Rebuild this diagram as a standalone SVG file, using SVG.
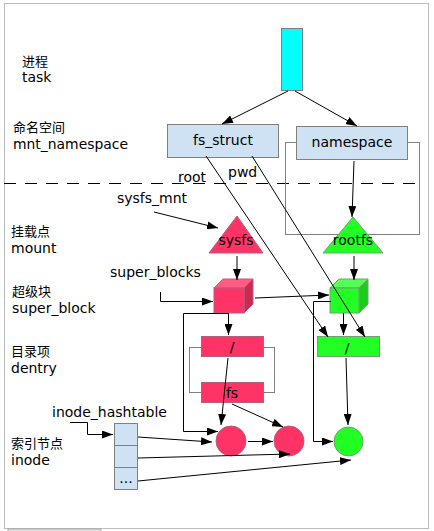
<svg xmlns="http://www.w3.org/2000/svg" width="434" height="531" viewBox="0 0 434 531">
<defs>
<marker id="ah" markerWidth="11" markerHeight="8" refX="11" refY="4" orient="auto" markerUnits="userSpaceOnUse"><path d="M0,0 L11,4 L0,8 z" fill="#000"/></marker>
<style>
text{font-family:"DejaVu Sans","Noto Sans CJK SC",sans-serif;font-size:14px;fill:#000}
.cjk{font-size:13px}
.mid{text-anchor:middle}
.blue{fill:#cfe2f3;stroke:#808080;stroke-width:1}
.red{fill:#ff3366;stroke:#b0607a;stroke-width:1}
.green{fill:#22ff22;stroke:#70a070;stroke-width:1}
.c{fill:none;stroke:#000;stroke-width:1;marker-end:url(#ah)}
.l{fill:none;stroke:#000;stroke-width:1}
.g{fill:none;stroke:#808080;stroke-width:1}
</style>
</defs>
<rect x="0" y="0" width="434" height="531" fill="#fff"/>
<rect x="4.5" y="3.5" width="424" height="525" fill="none" stroke="#bbb"/>
<rect x="8" y="529" width="93" height="4" fill="#e4e4e4" stroke="#aaa"/>

<g id="labels">
<text x="22" y="66" class="cjk">进程</text>
<text x="22" y="82">task</text>
<text x="13" y="132" class="cjk">命名空间</text>
<text x="13" y="149" textLength="115" lengthAdjust="spacingAndGlyphs">mnt_namespace</text>
<text x="11" y="236" class="cjk">挂载点</text>
<text x="11" y="253">mount</text>
<text x="12" y="296" class="cjk">超级块</text>
<text x="12" y="313">super_block</text>
<text x="11" y="356" class="cjk">目录项</text>
<text x="11" y="373">dentry</text>
<text x="11" y="448" class="cjk">索引节点</text>
<text x="11" y="465">inode</text>
<text x="178" y="182">root</text>
<text x="228" y="177">pwd</text>
<text x="117" y="203">sysfs_mnt</text>
<text x="110" y="277">super_blocks</text>
<text x="52" y="417">inode_hashtable</text>
</g>

<line x1="4" y1="183.5" x2="424" y2="183.5" stroke="#000" stroke-dasharray="12,9"/>

<g id="ns_group">
<rect x="285.5" y="142.5" width="134" height="92" class="g"/>
</g>

<g id="task"><rect x="281.5" y="28.5" width="21" height="62" fill="#00ffff" stroke="#808080"/></g>
<g id="fs_struct"><rect x="167.5" y="124.5" width="111" height="33" class="blue"/><text x="223" y="145" class="mid">fs_struct</text></g>
<g id="namespace"><rect x="296.5" y="126.5" width="111" height="33" class="blue"/><text x="352" y="147" class="mid">namespace</text></g>

<g id="sysfs"><polygon points="237,216 263,253 209,253" class="red" stroke="#888"/><text x="236" y="245" class="mid">sysfs</text></g>
<g id="rootfs"><polygon points="353,217 383,253 323,253" class="green" stroke="#888"/><text x="353" y="245" class="mid">rootfs</text></g>

<g id="sb_red">
<polygon points="214,288 223,279 253,279 244,288" fill="#ff5c85" stroke="#b0607a"/>
<polygon points="244,288 253,279 253,304 244,313" fill="#cc2952" stroke="#b0607a"/>
<rect x="214" y="288" width="30" height="25" fill="#ff3366" stroke="#b0607a"/>
</g>
<g id="sb_green">
<polygon points="330,288 339,279 368,279 359,288" fill="#55ff55" stroke="#70a070"/>
<polygon points="359,288 368,279 368,304 359,313" fill="#1bcc1b" stroke="#70a070"/>
<rect x="330" y="288" width="29" height="25" fill="#22ff22" stroke="#70a070"/>
</g>

<g id="dentry_group"><rect x="189.5" y="347.5" width="85" height="45" class="g"/></g>
<g id="d_root_red"><rect x="201.5" y="336.5" width="62" height="20" class="red"/><text x="232" y="352" class="mid">/</text></g>
<g id="d_fs_red"><rect x="201.5" y="382.5" width="62" height="20" class="red"/><text x="232" y="398" class="mid">fs</text></g>
<g id="d_root_green"><rect x="317.5" y="336.5" width="62" height="20" class="green"/><text x="347" y="353" class="mid">/</text></g>

<g id="inode1"><circle cx="231" cy="441" r="15" class="red" stroke="#888"/></g>
<g id="inode2"><circle cx="289" cy="441" r="15" class="red" stroke="#888"/></g>
<g id="inode3"><circle cx="348.5" cy="441.5" r="14.5" class="green" stroke="#888"/></g>

<g id="hashtable">
<rect x="114.5" y="423.5" width="23" height="22" class="blue"/>
<rect x="114.5" y="445.5" width="23" height="22" class="blue"/>
<rect x="114.5" y="467.5" width="23" height="22" class="blue"/>
<text x="126" y="483" class="mid">...</text>
</g>

<g id="connectors">
<path class="c" d="M288,91 L222,124"/>
<path class="c" d="M295,91 L357,126"/>
<path class="c" d="M354,161 L352,217"/>
<path class="c" d="M206,156 L328,337"/>
<path class="c" d="M252,156 L365,337"/>
<path class="c" d="M154,212 L218,228"/>
<path class="c" d="M237,256 L237,280"/>
<path class="c" d="M354,256 L354,280"/>
<path class="c" d="M160.5,292 L160.5,301.5 L213,301.5"/>
<path class="c" d="M255,298 L329,295"/>
<path class="c" d="M228.5,313 L228.5,335"/>
<path class="c" d="M228.5,313.5 L183.5,313.5 L183.5,431.5 L218,431.5"/>
<path class="c" d="M343.5,313 L343.5,335"/>
<path class="c" d="M331,301.5 L313.5,301.5 L313.5,441.5 L333,441.5"/>
<path class="c" d="M228,358 L221,425"/>
<path class="c" d="M232,404 L283,427"/>
<path class="c" d="M248,441.5 L273,441.5"/>
<path class="c" d="M346,358 L348,425"/>
<path class="c" d="M70,422.5 L87.5,422.5 L87.5,434.5 L113,434.5"/>
<path class="c" d="M138,437 L212,442"/>
<path class="c" d="M138,458 L290,454"/>
<path class="c" d="M138,481 L351,460"/>
</g>
</svg>
